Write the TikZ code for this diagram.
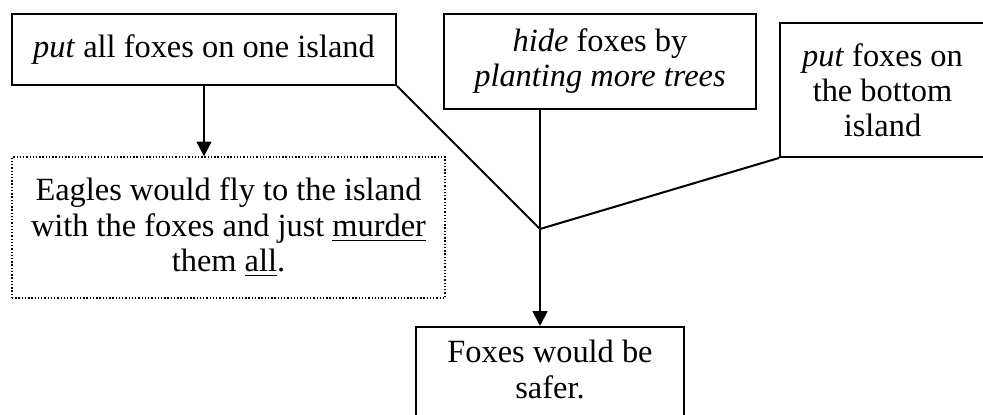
\documentclass[tikz,border=0pt]{standalone}
\usepackage{fontspec}
\setmainfont{Liberation Serif}
\usetikzlibrary{arrows.meta}
\begin{document}
\begin{tikzpicture}[x=0.3704pt,y=-0.3704pt,
  every node/.style={font=\fontsize{12}{13}\selectfont},
  box/.style={draw,line width=0.75pt,align=center,inner sep=0pt},
  dotbox/.style={draw,line width=0.5pt,dash pattern=on 0.5pt off 0.7pt,align=center,inner sep=0pt},
  link/.style={line width=0.75pt},
  arrowlink/.style={line width=0.75pt,-{Triangle[width=5.5pt,length=5.5pt]}}]
\useasboundingbox (0,0) rectangle (983,415);
\clip (0,0) rectangle (983,415);

% options
\node[box,minimum width=142.2pt,minimum height=26.3pt] (A) at (204,49.5)
  {\textit{put} all foxes on one island};
\node[box,minimum width=115.6pt,minimum height=35.2pt] (B) at (600,61.5)
  {\textit{hide} foxes by\\\textit{planting more trees}};
\node[box,minimum width=75.9pt,minimum height=49.6pt] (C) at (882.5,90)
  {\textit{put} foxes on\\the bottom\\island};

% consequences
\node[dotbox,minimum width=160.4pt,minimum height=52.2pt] (E) at (228.5,227.5)
  {Eagles would fly to the island\\with the foxes and just \underline{murder}\\them \underline{all}.};
\node[box,anchor=north,minimum width=99.3pt,inner ysep=5pt,text depth=22pt] (D) at (550,326)
  {Foxes would be\\safer.};

% connectors
\coordinate (J) at (540,229);
\draw[arrowlink] (A.south) -- (A.south |- E.north);
\draw[link] (A.south east) -- (J);
\draw[link] (J |- B.south) -- (J);
\draw[link] (C.south west) -- (J);
\draw[arrowlink] (J) -- (J |- D.north);
\end{tikzpicture}
\end{document}
